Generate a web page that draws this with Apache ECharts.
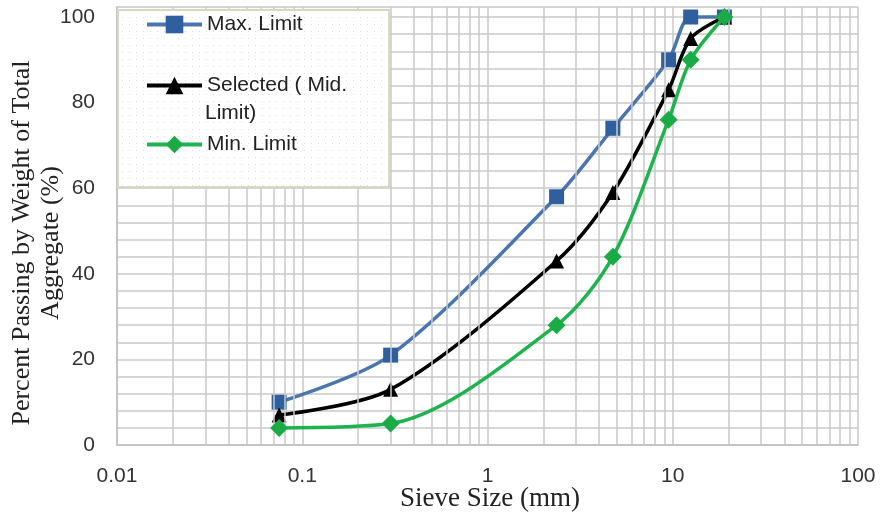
<!DOCTYPE html>
<html><head><meta charset="utf-8">
<script src="https://cdn.jsdelivr.net/npm/echarts@6/dist/echarts.min.js"></script>
<style>html,body{margin:0;padding:0;background:#fff}#c{width:880px;height:530px}</style>
</head><body><div id="c"></div>
<script>
const sieveSizes = [0.075, 0.3, 2.36, 4.75, 9.5, 12.5, 19];
const maxLimit = [10, 21, 58, 74, 90, 100, 100];
const midLimit = [7, 13, 43, 59, 83, 95, 100];
const minLimit = [4, 5, 28, 44, 76, 90, 100];
const seriesNames = ['Max. Limit', 'Selected ( Mid. Limit)', 'Min. Limit'];
const legendLines = ['Max. Limit', 'Selected ( Mid.', 'Limit)', 'Min. Limit'];
const xTickLabels = ['0.01', '0.1', '1', '10', '100'];
const yTickLabels = [0, 20, 40, 60, 80, 100];
const xTitle = 'Sieve Size (mm)';
const yTitle = 'Percent Passing by Weight of Total\nAggregate (%)';

const decades = [0.01, 0.1, 1, 10];
const minorX = [];
decades.forEach(d => { for (let k = 2; k <= 9; k++) minorX.push(+(k * d).toPrecision(3)); });

const GRID = '#c9c9c9';
const sans = 'Liberation Sans';
const serif = 'Liberation Serif';

const pc = document.createElement('canvas');
pc.width = 7; pc.height = 7;
const pctx = pc.getContext('2d');
pctx.fillStyle = '#ffffff'; pctx.fillRect(0, 0, 7, 7);
pctx.fillStyle = '#dcdcdc'; pctx.fillRect(3, 3, 1, 1);

const pts = arr => sieveSizes.map((x, i) => [x, arr[i]]);

const legendBase = {
  left: 145, padding: 0, itemWidth: 55, itemHeight: 22,
  lineStyle: {width: 4},
  textStyle: {fontFamily: sans, fontSize: 21, color: '#222'}, z: 200
};

const chart = echarts.init(document.getElementById('c'), null, {renderer: 'canvas'});
chart.setOption({
  animation: false,
  backgroundColor: '#fff',
  grid: {left: 117, right: 22, top: 7, bottom: 85, containLabel: false},
  xAxis: {
    type: 'log', logBase: 10, min: 0.01, max: 100,
    axisLine: {show: true, lineStyle: {color: '#bfbfbf', width: 1.5}},
    axisTick: {show: false},
    splitLine: {show: true, lineStyle: {color: GRID, width: 1.5}},
    axisLabel: {
      margin: 21, fontFamily: sans, fontSize: 21, color: '#333',
      formatter: v => xTickLabels[Math.round(Math.log10(v)) + 2] || ''
    }
  },
  yAxis: {
    type: 'value', min: 0, max: 102.34, interval: 4,
    axisLine: {show: true, lineStyle: {color: '#bfbfbf', width: 1.5}},
    axisTick: {show: false},
    splitLine: {show: true, lineStyle: {color: GRID, width: 1.5}},
    axisLabel: {
      margin: 22, fontFamily: sans, fontSize: 21, color: '#333',
      formatter: v => yTickLabels.indexOf(Math.round(v * 1000) / 1000) >= 0 ? String(v) : ''
    }
  },
  legend: [
    Object.assign({}, legendBase, {data: [seriesNames[0]], top: 14, formatter: () => legendLines[0]}),
    Object.assign({}, legendBase, {data: [seriesNames[1]], top: 75, formatter: () => legendLines[1]}),
    Object.assign({}, legendBase, {data: [seriesNames[2]], top: 134, formatter: () => legendLines[3]})
  ],
  graphic: [
    {type: 'rect', z: 50, shape: {x: 118, y: 10, width: 271, height: 177},
     style: {fill: {image: pc, repeat: 'repeat'}, stroke: '#d9d6c2', lineWidth: 2}},
    {type: 'text', z: 210, x: 205, y: 113,
     style: {text: legendLines[2], font: '21px "' + sans + '"', fill: '#222', align: 'left', verticalAlign: 'middle'}},
    {type: 'text', z: 100, x: 490, y: 499,
     style: {text: xTitle, font: '27px "' + serif + '"', fill: '#222', align: 'center', verticalAlign: 'middle'}},
    {type: 'text', z: 100, x: 37, y: 243, rotation: Math.PI / 2,
     style: {text: yTitle, font: '26px "' + serif + '"', lineHeight: 29, fill: '#222', align: 'center', verticalAlign: 'middle'}}
  ],
  series: [
    {
      name: 'grid-minor', type: 'line', data: pts(maxLimit), symbol: 'none', silent: true,
      lineStyle: {width: 0, opacity: 0}, z: 1, legendHoverLink: false,
      markLine: {
        silent: true, symbol: ['none', 'none'], label: {show: false}, animation: false,
        lineStyle: {color: GRID, width: 1.5, type: 'solid'},
        data: minorX.map(v => ({xAxis: v}))
      }
    },
    {
      name: seriesNames[0], type: 'line', data: pts(maxLimit), smooth: 0.3, z: 3,
      symbol: 'rect', symbolSize: 15,
      lineStyle: {color: '#4a76ad', width: 3.5}, itemStyle: {color: '#2f5f9e'}
    },
    {
      name: seriesNames[1], type: 'line', data: pts(midLimit), smooth: 0.3, z: 4,
      symbol: 'triangle', symbolSize: 15,
      lineStyle: {color: '#000', width: 3.5}, itemStyle: {color: '#000'}
    },
    {
      name: seriesNames[2], type: 'line', data: pts(minLimit), smooth: 0.3, z: 5,
      symbol: 'diamond', symbolSize: 18,
      lineStyle: {color: '#1fb34e', width: 3.5}, itemStyle: {color: '#1aab47'}
    }
  ]
});
</script></body></html>
